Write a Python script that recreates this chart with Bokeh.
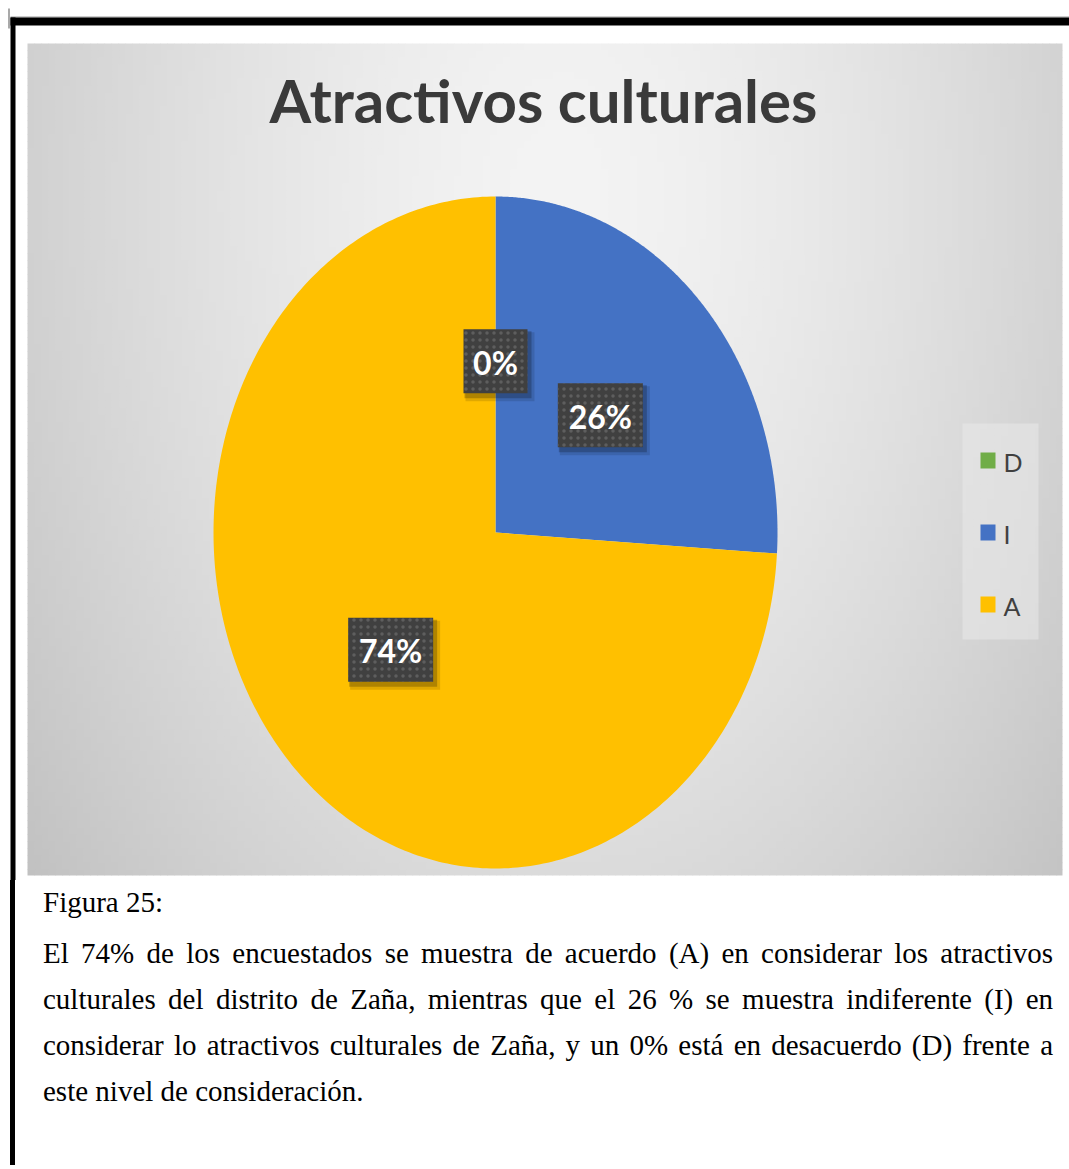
import numpy as np
from bokeh.plotting import figure
from bokeh.models import Range1d, Div
from bokeh.layouts import column
from bokeh.core.properties import value
from bokeh.embed import file_html
from bokeh.resources import INLINE

# ---------------- data ----------------
title = "Atractivos culturales"
categories = ["D", "I", "A"]
shares = [0, 26, 74]
slice_colors = ["#70ad47", "#4472c4", "#ffc000"]
pct_labels = ["0%", "26%", "74%"]
caption_head = "Figura 25:"
caption_lines = [
    "El 74% de los encuestados se muestra de acuerdo (A) en considerar los atractivos",
    "culturales del distrito de Zaña, mientras que el 26 % se muestra indiferente (I) en",
    "considerar lo atractivos culturales de Zaña, y un 0% está en desacuerdo (D) frente a",
    "este nivel de consideración.",
]

# ---------------- figure (page pixel coords) ----------------
W, H = 1069, 880
p = figure(width=W, height=H, x_range=Range1d(0, W), y_range=Range1d(H, 0),
           output_backend="svg", toolbar_location=None, min_border=0)
p.axis.visible = False
p.grid.visible = False
p.outline_line_color = None
p.background_fill_color = "white"
p.border_fill_color = "white"

# chart area background gradient (grid of small cells)
x0, x1, y0, y1 = 27, 1062, 43, 875
step = 7
xs_l = np.arange(x0, x1, step)
ys_t = np.arange(y0, y1, step)
LX, TY = np.meshgrid(xs_l, ys_t)
LX = LX.ravel().astype(float)
TY = TY.ravel().astype(float)
RX = np.minimum(LX + step + 0.6, x1)
BY = np.minimum(TY + step + 0.6, y1)
CXc = (LX + RX) / 2
CYc = (TY + BY) / 2
dd = np.sqrt(((CXc - 560) / 560) ** 2 + ((CYc - 200) / 900) ** 2)
vv = np.clip(244 - 38 * dd ** 1.5, 150, 255).astype(int)
cell_colors = ["#%02x%02x%02x" % (g, g, g) for g in vv]
p.quad(left=LX, right=RX, top=TY, bottom=BY, fill_color=cell_colors, line_color=None)

# frame lines
p.quad(left=[10], right=[W], top=[16], bottom=[17], fill_color="#9a9a9a", line_color=None)
p.quad(left=[10], right=[W], top=[17], bottom=[25], fill_color="black", line_color=None)
p.quad(left=[10], right=[15], top=[17], bottom=[H], fill_color="black", line_color=None)
p.quad(left=[8], right=[9], top=[8], bottom=[28], fill_color="#555555", line_color=None)

# title
p.text(x=[543], y=[99], text=[title], text_align="center", text_baseline="middle",
       text_font=value("Lato"), text_font_style="bold", text_font_size="60px",
       text_color="#3a3a3a")

# pie (ellipse, clockwise from 12 o'clock)
cx, cy, rx, ry = 495, 532, 282, 336
total = float(sum(shares))
cum = np.concatenate([[0], np.cumsum(shares)]) / total * 2 * np.pi
for i, s in enumerate(shares):
    a0, a1 = cum[i], cum[i + 1]
    if s <= 0:
        continue
    th = np.linspace(a0, a1, 300)
    xs = np.concatenate([[cx], cx + rx * np.sin(th)])
    ys = np.concatenate([[cy], cy - ry * np.cos(th)])
    p.patch(xs, ys, fill_color=slice_colors[i], line_color=None)

# data labels
for i, s in enumerate(shares):
    mid = (cum[i] + cum[i + 1]) / 2
    lx = cx + 0.51 * rx * np.sin(mid)
    ly = cy - 0.51 * ry * np.cos(mid)
    bw = 22 + 21 * len(pct_labels[i])
    bh = 64
    p.quad(left=[lx - bw / 2 + 2], right=[lx + bw / 2 + 7], top=[ly - bh / 2 + 3],
           bottom=[ly + bh / 2 + 8], fill_color="black", fill_alpha=0.12, line_color=None)
    p.quad(left=[lx - bw / 2 + 1], right=[lx + bw / 2 + 4], top=[ly - bh / 2 + 2],
           bottom=[ly + bh / 2 + 5], fill_color="black", fill_alpha=0.22, line_color=None)
    p.quad(left=[lx - bw / 2], right=[lx + bw / 2], top=[ly - bh / 2], bottom=[ly + bh / 2],
           fill_color="#404040", line_color=None, hatch_pattern="dot",
           hatch_color="#5e5e5e", hatch_scale=7, hatch_weight=1.5)
    p.text(x=[lx], y=[ly + 1], text=[pct_labels[i]], text_align="center", text_baseline="middle",
           text_font=value("Lato"), text_font_style="bold", text_font_size="32px",
           text_color="white")

# legend
p.quad(left=[962], right=[1038], top=[423], bottom=[639], fill_color="#eaeaea",
       fill_alpha=0.55, line_color=None)
for i, c in enumerate(categories):
    yy = 460 + 72 * i
    p.quad(left=[980], right=[995], top=[yy - 8], bottom=[yy + 8],
           fill_color=slice_colors[i], line_color=None)
    p.text(x=[1003], y=[yy + 1], text=[c], text_align="left", text_baseline="middle",
           text_font=value("Lato"), text_font_size="25px", text_color="#404040")

# ---------------- caption (justified text) ----------------
DH = 285
font = "font-family:'Liberation Serif','Times New Roman',serif;font-size:29px;line-height:46px;color:#000;"
parts = [f'<div style="position:relative;width:{W}px;height:{DH}px;overflow:hidden;">',
         f'<div style="position:absolute;left:10px;top:0;width:5px;height:{DH}px;background:#000;"></div>',
         f'<div style="position:absolute;left:43px;top:-1px;{font}">{caption_head}</div>']
tops = [50, 96, 142, 188]
for k, line in enumerate(caption_lines):
    last = k == len(caption_lines) - 1
    align = "text-align:left;" if last else "text-align:justify;text-align-last:justify;"
    parts.append(f'<div style="position:absolute;left:43px;top:{tops[k]}px;width:1010px;{font}{align}">{line}</div>')
parts.append('</div>')
div = Div(text="".join(parts), width=W, height=DH, margin=0)

layout = column(p, div, spacing=0)
open("out.html", "w").write(file_html(layout, INLINE))
